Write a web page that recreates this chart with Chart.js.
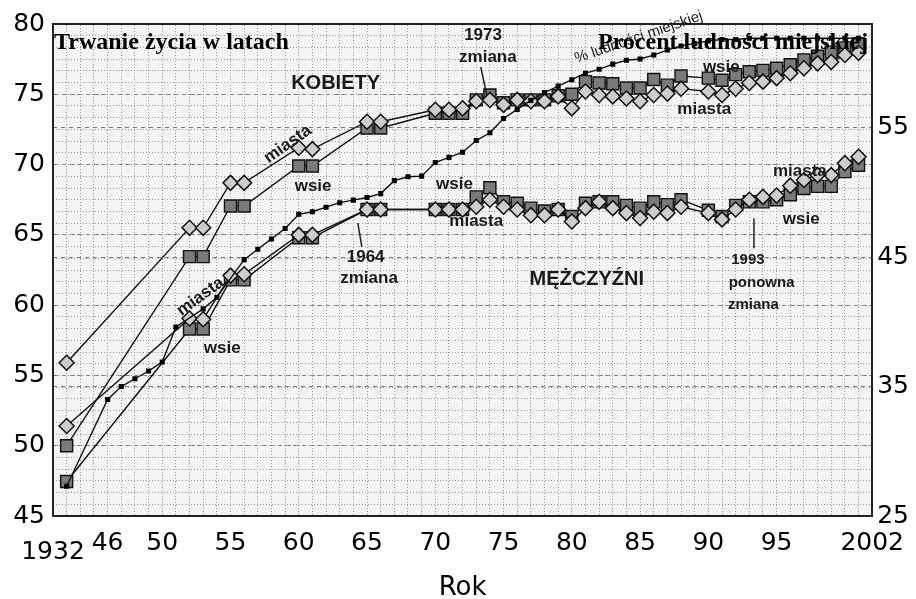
<!DOCTYPE html>
<html><head><meta charset="utf-8">
<script src="https://cdn.jsdelivr.net/npm/chart.js@4.4.1/dist/chart.umd.min.js"></script>
<style>html,body{margin:0;padding:0;background:#fff}canvas{display:block}</style>
</head><body>
<canvas id="c" width="916" height="599"></canvas>
<script>
// ---- data ----
const years = [1932,1952,1953,1955,1956,1960,1961,1965,1966,1970,1971,1972,1973,1974,1975,1976,1977,1978,1979,1980,1981,1982,1983,1984,1985,1986,1987,1988,1990,1991,1992,1993,1994,1995,1996,1997,1998,1999,2000,2001];
const kobietyMiasta = [55.9,65.5,65.5,68.7,68.7,71.2,71.1,73.05,73.05,73.9,73.9,74.0,74.5,74.6,74.25,74.6,74.5,74.5,74.85,74.0,75.2,74.95,74.85,74.7,74.5,74.95,75.05,75.4,75.2,74.95,75.4,75.8,75.9,76.15,76.5,76.85,77.2,77.3,77.8,77.95];
const kobietyWsie = [50.0,63.45,63.45,67.05,67.05,69.9,69.9,72.6,72.6,73.65,73.65,73.65,74.6,74.95,74.4,74.6,74.6,74.6,74.9,75.0,75.9,75.8,75.75,75.45,75.45,76.05,75.65,76.3,76.15,76.0,76.4,76.6,76.7,76.85,77.1,77.45,77.7,78.0,78.3,78.6];
const mezczyzniMiasta = [51.4,59.05,59.0,62.1,62.2,65.0,65.0,66.8,66.8,66.8,66.8,66.8,67.0,67.5,67.0,66.8,66.4,66.4,66.8,65.95,66.9,67.35,66.9,66.55,66.2,66.65,66.55,67.0,66.55,66.1,66.8,67.5,67.7,67.8,68.5,68.9,69.25,69.25,70.1,70.55];
const mezczyzniWsie = [47.45,58.3,58.3,61.8,61.8,64.8,64.8,66.8,66.8,66.8,66.8,66.8,67.7,68.35,67.35,67.25,66.9,66.7,66.8,66.3,67.25,67.35,67.35,67.1,66.9,67.35,67.15,67.5,66.75,66.3,67.1,67.35,67.35,67.5,67.85,68.3,68.45,68.45,69.5,69.95];
const urbanYears = [1932,1946,1947,1948,1949,1950,1951,1953,1954,1956,1957,1958,1959,1960,1961,1962,1963,1964,1965,1966,1967,1968,1969,1970,1971,1972,1973,1974,1975,1976,1977,1978,1979,1980,1981,1982,1983,1984,1985,1986,1987,1988,1989,1990,1991,1992,1993,1994,1995,1996,1997,1998,1999,2000,2001];
const urbanPct = [27.3,34.0,35.0,35.6,36.2,36.9,39.6,41.0,41.9,44.8,45.6,46.4,47.2,48.3,48.5,48.85,49.2,49.4,49.6,49.9,50.9,51.2,51.25,52.3,52.7,53.1,54.0,54.6,55.7,56.4,57.1,57.7,58.2,58.7,59.2,59.5,59.9,60.2,60.3,60.6,61.0,61.3,61.5,61.7,61.8,61.8,61.9,61.9,61.9,61.9,61.9,61.9,61.9,61.9,61.9];
const xTickPos = [1942,1946,1950,1955,1960,1965,1970,1975,1980,1985,1990,1995,2002];
const xTickLabels = ['1932','46','50','55','60','65','70','75','80','85','90','95','2002'];
const leftTicks = [45,50,55,60,65,70,75,80];
const rightTicks = [25,35,45,55];
// axis break: the 1932 observation sits just right of the broken axis start
const axisPos = yr => (yr === 1932 ? 1943 : yr);

const pts = (xs, ys) => xs.map((v, i) => ({x: axisPos(v), y: ys[i]}));

const notes = [
  {t:'KOBIETY', x:1962.7, y:75.75, f:'bold 20px "Liberation Sans", Arial'},
  {t:'MĘŻCZYŹNI', x:1981.1, y:61.8, f:'bold 20px "Liberation Sans", Arial'},
  {t:'miasta', x:1959.2, y:71.45, r:-35},
  {t:'wsie', x:1961.05, y:68.45},
  {t:'miasta', x:1952.8, y:60.6, r:-36},
  {t:'wsie', x:1954.4, y:56.95},
  {t:'1964', x:1964.9, y:63.4},
  {t:'zmiana', x:1965.15, y:61.9},
  {t:'1973', x:1973.5, y:79.2},
  {t:'zmiana', x:1973.85, y:77.65},
  {t:'wsie', x:1971.4, y:68.6},
  {t:'miasta', x:1973.0, y:65.95},
  {t:'wsie', x:1990.95, y:76.95},
  {t:'miasta', x:1989.7, y:73.9},
  {t:'miasta', x:1996.7, y:69.55},
  {t:'wsie', x:1996.8, y:66.1},
  {t:'1993', x:1992.9, y:63.2, f:'bold 15px "Liberation Sans", Arial'},
  {t:'ponowna', x:1993.9, y:61.55, f:'bold 15px "Liberation Sans", Arial'},
  {t:'zmiana', x:1993.3, y:60.0, f:'bold 15px "Liberation Sans", Arial'},
  {t:'% ludności miejskiej', x:1984.9, y:79.05, r:-19, f:'15px "Liberation Sans", Arial'}
];
const leaders = [
  [1964.33, 65.84, 1964.62, 64.14],
  [1973.33, 76.94, 1973.77, 74.95],
  [1993.34, 66.18, 1993.34, 64.04]
];

const notesPlugin = {
  id: 'notes',
  beforeDraw(chart) {
    const {ctx, chartArea: a} = chart;
    ctx.save();
    ctx.fillStyle = '#f4f4f4';
    ctx.fillRect(a.left, a.top, a.right - a.left, a.bottom - a.top);
    ctx.restore();
  },
  afterDatasetsDraw(chart) {
    const {ctx, chartArea: a} = chart;
    const x = chart.scales.x, y = chart.scales.y;
    ctx.save();
    ctx.strokeStyle = '#222'; ctx.lineWidth = 1.5;
    leaders.forEach(l => {
      ctx.beginPath();
      ctx.moveTo(x.getPixelForValue(l[0]), y.getPixelForValue(l[1]));
      ctx.lineTo(x.getPixelForValue(l[2]), y.getPixelForValue(l[3]));
      ctx.stroke();
    });
    ctx.fillStyle = '#1a1a1a';
    ctx.textAlign = 'center'; ctx.textBaseline = 'middle';
    notes.forEach(n => {
      ctx.save();
      ctx.translate(x.getPixelForValue(n.x), y.getPixelForValue(n.y));
      if (n.r) ctx.rotate(n.r * Math.PI / 180);
      ctx.font = n.f || 'bold 17px "Liberation Sans", Arial';
      ctx.fillText(n.t, 0, 0);
      ctx.restore();
    });
    ctx.fillStyle = '#000';
    ctx.font = 'bold 24px "Liberation Serif", "Times New Roman", serif';
    ctx.textBaseline = 'alphabetic';
    ctx.textAlign = 'left';
    ctx.fillText('Trwanie życia w latach', a.left + 1, a.top + 25);
    ctx.textAlign = 'right';
    ctx.fillText('Procent ludności miejskiej', a.right - 4, a.top + 25);
    ctx.restore();
  },
  afterDraw(chart) {
    const {ctx} = chart;
    const x = chart.scales.x;
    ctx.save();
    ctx.fillStyle = '#000';
    ctx.font = '25px "DejaVu Sans", sans-serif';
    ctx.textAlign = 'center'; ctx.textBaseline = 'middle';
    ctx.fillText(xTickLabels[0], x.getPixelForValue(xTickPos[0]), x.top + 36);
    ctx.restore();
  }
};

const tickFont = {family: '"DejaVu Sans", sans-serif', size: 25};
const diamond = {pointStyle: 'rectRot', pointRadius: 7.5, pointHoverRadius: 7.5, pointBackgroundColor: '#cdcdcd', pointBorderColor: '#111', pointBorderWidth: 1.5, borderColor: '#111', borderWidth: 1.4, tension: 0, yAxisID: 'y'};
const square = {pointStyle: 'rect', pointRadius: 8.5, pointHoverRadius: 8.5, pointBackgroundColor: '#7a7a7a', pointBorderColor: '#111', pointBorderWidth: 1.4, borderColor: '#111', borderWidth: 1.4, tension: 0, yAxisID: 'y'};

new Chart(document.getElementById('c'), {
  type: 'line',
  data: {
    datasets: [
      {label: '% ludności miejskiej', data: pts(urbanYears, urbanPct), yAxisID: 'y2', pointStyle: 'rect', pointRadius: 3.6, pointBackgroundColor: '#000', pointBorderColor: '#000', pointBorderWidth: 0, borderColor: '#111', borderWidth: 1.4, tension: 0},
      Object.assign({label: 'Kobiety miasta', data: pts(years, kobietyMiasta)}, diamond),
      Object.assign({label: 'Mężczyźni miasta', data: pts(years, mezczyzniMiasta)}, diamond),
      Object.assign({label: 'Kobiety wsie', data: pts(years, kobietyWsie)}, square),
      Object.assign({label: 'Mężczyźni wsie', data: pts(years, mezczyzniWsie)}, square)
    ]
  },
  options: {
    responsive: false,
    animation: false,
    devicePixelRatio: 1,
    layout: {padding: 0},
    plugins: {legend: {display: false}, tooltip: {enabled: false}},
    scales: {
      x: {
        type: 'linear', position: 'bottom', min: 1942, max: 2002,
        afterBuildTicks: s => { s.ticks = xTickPos.map(v => ({value: v})); },
        afterFit: s => { s.height = 83; },
        ticks: {autoSkip: false, maxRotation: 0, padding: 12, font: tickFont, color: '#000',
          callback: v => { const i = xTickPos.indexOf(v); return i > 0 ? xTickLabels[i] : ''; }},
        grid: {display: false, drawTicks: false},
        border: {display: true, color: '#222', width: 2},
        title: {display: true, text: 'Rok', font: {family: '"DejaVu Sans", sans-serif', size: 26, lineHeight: 1}, color: '#000', padding: {top: 0, bottom: -2}}
      },
      xg: {
        type: 'linear', position: 'top', min: 1942, max: 2002,
        afterFit: s => { s.height = 24; },
        ticks: {display: false, stepSize: 1},
        grid: {display: true, drawTicks: false, color: '#999', lineWidth: 1},
        border: {display: true, color: '#222', width: 2, dash: [1, 2]}
      },
      y: {
        type: 'linear', position: 'left', min: 45, max: 80,
        afterBuildTicks: s => { s.ticks = leftTicks.map(v => ({value: v})); },
        afterFit: s => { s.width = 53; },
        ticks: {padding: 8, font: tickFont, color: '#000'},
        grid: {display: true, drawTicks: false, color: '#777', lineWidth: 1},
        border: {display: true, color: '#222', width: 2, dash: [4, 4]}
      },
      yg: {
        type: 'linear', position: 'left', min: 0, max: 42,
        afterFit: s => { s.width = 0; },
        ticks: {display: false, stepSize: 1},
        grid: {display: true, drawTicks: false, color: '#999', lineWidth: 1},
        border: {display: false, dash: [1, 2]}
      },
      y2: {
        type: 'linear', position: 'right', min: 25, max: 63,
        afterBuildTicks: s => { s.ticks = rightTicks.map(v => ({value: v})); },
        afterFit: s => { s.width = 43; },
        ticks: {padding: 5, font: tickFont, color: '#000'},
        grid: {display: true, drawTicks: false, color: '#777', lineWidth: 1},
        border: {display: true, color: '#222', width: 2, dash: [4, 4]}
      }
    }
  },
  plugins: [notesPlugin]
});
</script>
</body></html>
